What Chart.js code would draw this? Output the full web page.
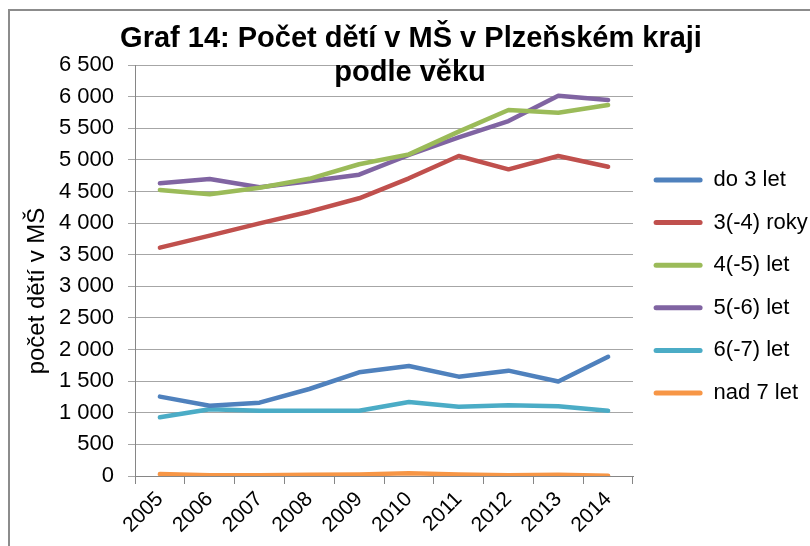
<!DOCTYPE html>
<html lang="cs">
<head>
<meta charset="utf-8">
<title>Graf 14</title>
<script src="https://cdn.jsdelivr.net/npm/chart.js@4.4.1/dist/chart.umd.min.js"></script>
<style>
    body { margin: 0; background: #fff; }
    #obal { width: 810px; height: 546px; position: relative; }
</style>
</head>
<body>
<div id="obal"><canvas id="graf"></canvas></div>
<script>
const roky = ['2005', '2006', '2007', '2008', '2009', '2010', '2011', '2012', '2013', '2014'];

const do3 = [1255, 1112, 1160, 1376, 1640, 1740, 1571, 1666, 1495, 1885];
const vek3 = [3611, 3801, 3996, 4180, 4392, 4708, 5061, 4850, 5061, 4892];
const vek4 = [4523, 4455, 4560, 4700, 4930, 5087, 5446, 5788, 5746, 5867];
const vek5 = [4629, 4697, 4566, 4660, 4765, 5077, 5356, 5614, 6015, 5946];
const vek6 = [928, 1055, 1033, 1033, 1033, 1170, 1096, 1118, 1102, 1033];
const nad7 = [30, 10, 10, 20, 25, 45, 25, 10, 20, 5];

const nazvy = ['do 3 let', '3(-4) roky', '4(-5) let', '5(-6) let', '6(-7) let', 'nad 7 let'];
const barvy = ['#4F81BD', '#C0504D', '#9BBB59', '#8064A2', '#4BACC6', '#F79646'];

const nadpis = ['Graf 14: Počet dětí v MŠ v Plzeňském kraji', 'podle věku'];
const osaY = 'počet dětí v MŠ';

Chart.defaults.font.family = '"Liberation Sans", Arial, sans-serif';
Chart.defaults.color = '#000';

function mezery(v) {
    return String(v).replace(/\B(?=(\d{3})+(?!\d))/g, ' ');
}

const ramecek = {
    id: 'ramecek',
    beforeDraw(chart) {
        const ctx = chart.ctx;
        ctx.save();
        ctx.fillStyle = '#fff';
        ctx.fillRect(0, 0, chart.width, chart.height);
        ctx.strokeStyle = '#8c8c8c';
        ctx.lineWidth = 2;
        ctx.strokeRect(9, 10, 900, 700);
        ctx.restore();
    },
    afterDraw(chart) {
        const ctx = chart.ctx;
        ctx.save();
        ctx.fillStyle = '#000';
        ctx.textAlign = 'center';
        ctx.textBaseline = 'alphabetic';
        ctx.font = 'bold 29px "Liberation Sans", Arial, sans-serif';
        ctx.fillText(nadpis[0], 411, 47);
        ctx.fillText(nadpis[1], 410, 81);
        ctx.translate(37, 291);
        ctx.rotate(-Math.PI / 2);
        ctx.textBaseline = 'middle';
        ctx.font = '24px "Liberation Sans", Arial, sans-serif';
        ctx.fillText(osaY, 0, 0);
        ctx.restore();
    }
};

const serie = [do3, vek3, vek4, vek5, vek6, nad7];

new Chart(document.getElementById('graf'), {
    type: 'line',
    data: {
        labels: roky,
        datasets: serie.map((data, i) => ({
            label: nazvy[i],
            data: data,
            borderColor: barvy[i],
            backgroundColor: barvy[i],
            borderWidth: 4.5,
            pointRadius: 0,
            tension: 0,
            borderCapStyle: 'round',
            borderJoinStyle: 'round'
        }))
    },
    options: {
        responsive: true,
        maintainAspectRatio: false,
        animation: false,
        layout: { padding: { top: 65, left: 0, right: 0, bottom: 0 } },
        plugins: {
            tooltip: { enabled: false },
            title: { display: false },
            legend: {
                position: 'right',
                align: 'start',
                maxWidth: 177,
                title: { display: true, text: ' ', font: { size: 10, lineHeight: 1 }, padding: { top: 73.4, bottom: 0 } },
                labels: {
                    font: { size: 22 },
                    color: '#000',
                    boxWidth: 49,
                    boxHeight: 5,
                    padding: 20.6,
                    useBorderRadius: true,
                    borderRadius: 2.5,
                    generateLabels(chart) {
                        const polozky = Chart.defaults.plugins.legend.labels.generateLabels(chart);
                        polozky.forEach(p => { p.lineWidth = 0; p.fillStyle = p.strokeStyle; });
                        return polozky;
                    }
                }
            }
        },
        scales: {
            x: {
                offset: true,
                afterFit(s) { s.height = 70; },
                grid: { display: true, offset: true, drawOnChartArea: false, drawTicks: true, tickLength: 8, color: '#868686' },
                border: { display: true, color: '#868686' },
                ticks: { font: { size: 21 }, color: '#000', minRotation: 45, maxRotation: 45, padding: 3, autoSkip: false }
            },
            y: {
                min: 0,
                max: 6500,
                afterFit(s) { s.width = 135; },
                grid: { color: '#a6a6a6', tickLength: 7, drawTicks: true },
                border: { display: true, color: '#868686' },
                ticks: { stepSize: 500, font: { size: 22 }, color: '#000', padding: 14, callback: v => mezery(v) }
            }
        }
    },
    plugins: [ramecek]
});
</script>
</body>
</html>
